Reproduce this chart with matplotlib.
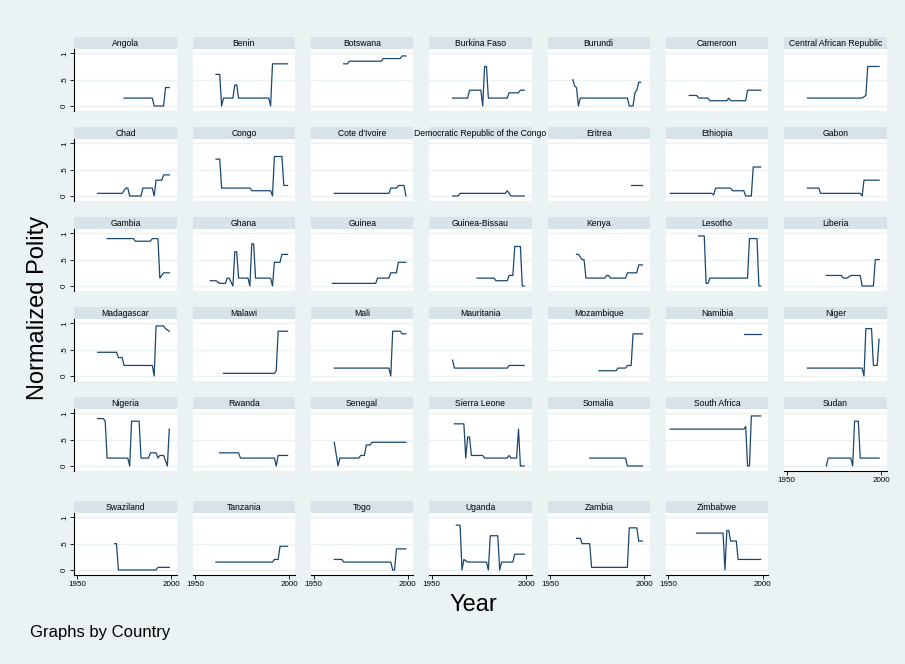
import matplotlib
matplotlib.use("Agg")
import matplotlib.pyplot as plt

plt.rcParams['font.family'] = ['Liberation Sans', 'DejaVu Sans']

# ---------------- data (vertices: year, normalized polity) ----------------
angola = [(1975, .15), (1990, .15), (1991, 0), (1996, 0), (1997, .35), (1999, .35)]
benin = [(1961, .6), (1963, .6), (1964, 0), (1965, .15), (1970, .15), (1971, .4), (1972, .4), (1973, .15),
         (1989, .15), (1990, 0), (1991, .8), (1999, .8)]
botswana = [(1966, .8), (1968, .8), (1969, .85), (1986, .85), (1987, .9), (1996, .9), (1997, .95), (1999, .95)]
burkina = [(1961, .15), (1969, .15), (1970, .3), (1976, .3), (1977, 0), (1978, .75), (1979, .75), (1980, .15),
           (1990, .15), (1991, .25), (1996, .25), (1997, .3), (1999, .3)]
burundi = [(1962, .5), (1963, .38), (1964, .35), (1965, 0), (1966, .15), (1991, .15), (1992, 0), (1994, 0),
           (1995, .25), (1996, .3), (1997, .45), (1998, .45)]
cameroon = [(1961, .2), (1965, .2), (1966, .15), (1971, .15), (1972, .1), (1981, .1), (1982, .15), (1983, .1),
            (1991, .1), (1992, .3), (1999, .3)]
car = [(1961, .15), (1990, .15), (1992, .2), (1993, .75), (1999, .75)]
chad = [(1961, .05), (1974, .05), (1976, .15), (1977, .15), (1978, 0), (1984, 0), (1985, .15), (1990, .15),
        (1991, 0), (1992, .3), (1995, .3), (1996, .4), (1999, .4)]
congo = [(1961, .7), (1963, .7), (1964, .15), (1979, .15), (1980, .1), (1990, .1), (1991, 0), (1992, .75),
         (1996, .75), (1997, .2), (1999, .2)]
cote = [(1961, .05), (1990, .05), (1991, .15), (1994, .15), (1995, .2), (1998, .2), (1999, 0)]
drc = [(1961, 0), (1964, 0), (1965, .05), (1989, .05), (1990, .1), (1992, 0), (1999, 0)]
eritrea = [(1993, .2), (1999, .2)]
ethiopia = [(1951, .05), (1973, .05), (1974, .02), (1975, .15), (1983, .15), (1984, .1), (1990, .1), (1991, 0),
            (1994, 0), (1995, .55), (1999, .55)]
gabon = [(1961, .15), (1967, .15), (1968, .05), (1989, .05), (1990, 0), (1991, .3), (1999, .3)]
gambia = [(1966, .9), (1980, .9), (1981, .85), (1989, .85), (1990, .9), (1993, .9), (1994, .15), (1995, .2),
          (1996, .25), (1999, .25)]
ghana = [(1958, .1), (1961, .1), (1963, .05), (1966, .05), (1967, .15), (1968, .15), (1970, 0), (1971, .65),
         (1972, .65), (1973, .15), (1978, .15), (1979, 0), (1980, .8), (1981, .8), (1982, .15), (1990, .15),
         (1991, 0), (1992, .45), (1995, .45), (1996, .6), (1999, .6)]
guinea = [(1960, .05), (1983, .05), (1984, .15), (1990, .15), (1991, .25), (1994, .25), (1995, .45), (1999, .45)]
gbissau = [(1974, .15), (1983, .15), (1984, .1), (1990, .1), (1991, .2), (1993, .2), (1994, .75), (1997, .75),
           (1998, 0), (1999, 0)]
kenya = [(1964, .6), (1965, .6), (1967, .5), (1968, .5), (1969, .15), (1979, .15), (1980, .2), (1981, .2),
         (1982, .15), (1990, .15), (1991, .25), (1996, .25), (1997, .4), (1999, .4)]
lesotho = [(1966, .95), (1969, .95), (1970, .05), (1971, .05), (1972, .15), (1992, .15), (1993, .9), (1997, .9),
           (1998, 0), (1999, 0)]
liberia = [(1971, .2), (1979, .2), (1980, .15), (1982, .15), (1984, .2), (1989, .2), (1990, 0), (1996, 0),
           (1997, .5), (1999, .5)]
madagascar = [(1961, .45), (1971, .45), (1972, .35), (1974, .35), (1975, .2), (1990, .2), (1991, 0), (1992, .95),
              (1996, .95), (1997, .9), (1999, .85)]
malawi = [(1965, .05), (1992, .05), (1993, .1), (1994, .85), (1999, .85)]
mali = [(1961, .15), (1990, .15), (1991, 0), (1992, .85), (1996, .85), (1997, .8), (1999, .8)]
mauritania = [(1961, .3), (1962, .15), (1990, .15), (1991, .2), (1999, .2)]
mozambique = [(1976, .1), (1985, .1), (1986, .15), (1990, .15), (1991, .2), (1993, .2), (1994, .8), (1999, .8)]
namibia = [(1990, .8), (1999, .8)]
niger = [(1961, .15), (1990, .15), (1991, 0), (1992, .9), (1995, .9), (1996, .2), (1998, .2), (1999, .7)]
nigeria = [(1961, .9), (1964, .9), (1965, .85), (1966, .15), (1977, .15), (1978, 0), (1979, .85), (1983, .85),
           (1984, .15), (1988, .15), (1989, .25), (1992, .25), (1993, .15), (1994, .2), (1996, .2), (1998, 0),
           (1999, .7)]
rwanda = [(1963, .25), (1973, .25), (1974, .15), (1992, .15), (1993, 0), (1994, .2), (1999, .2)]
senegal = [(1961, .45), (1963, 0), (1964, .15), (1974, .15), (1975, .2), (1977, .2), (1978, .4), (1980, .4),
           (1981, .45), (1999, .45)]
sierra = [(1962, .8), (1967, .8), (1968, .15), (1969, .55), (1970, .55), (1971, .2), (1977, .2), (1978, .15),
          (1990, .15), (1991, .2), (1992, .15), (1995, .15), (1996, .7), (1997, 0), (1999, 0)]
somalia = [(1971, .15), (1990, .15), (1991, 0), (1999, 0)]
safrica = [(1951, .7), (1990, .7), (1991, .75), (1992, 0), (1993, 0), (1994, .95), (1999, .95)]
sudan = [(1971, 0), (1972, .15), (1984, .15), (1985, 0), (1986, .85), (1988, .85), (1989, .15), (1999, .15)]
swaziland = [(1970, .5), (1971, .5), (1972, 0), (1992, 0), (1993, .05), (1999, .05)]
tanzania = [(1961, .15), (1991, .15), (1992, .2), (1994, .2), (1995, .45), (1999, .45)]
togo = [(1961, .2), (1965, .2), (1966, .15), (1991, .15), (1992, 0), (1993, 0), (1994, .4), (1999, .4)]
uganda = [(1963, .85), (1965, .85), (1966, 0), (1967, .2), (1969, .15), (1979, .15), (1980, 0), (1981, .65),
          (1985, .65), (1986, 0), (1987, .15), (1993, .15), (1994, .3), (1999, .3)]
zambia = [(1964, .6), (1966, .6), (1967, .5), (1971, .5), (1972, .05), (1991, .05), (1992, .8), (1996, .8),
          (1997, .55), (1999, .55)]
zimbabwe = [(1965, .7), (1979, .7), (1980, 0), (1981, .75), (1982, .75), (1983, .55), (1986, .55), (1987, .2),
            (1999, .2)]

countries = ["Angola", "Benin", "Botswana", "Burkina Faso", "Burundi", "Cameroon", "Central African Republic",
             "Chad", "Congo", "Cote d'Ivoire", "Democratic Republic of the Congo", "Eritrea", "Ethiopia", "Gabon",
             "Gambia", "Ghana", "Guinea", "Guinea-Bissau", "Kenya", "Lesotho", "Liberia",
             "Madagascar", "Malawi", "Mali", "Mauritania", "Mozambique", "Namibia", "Niger",
             "Nigeria", "Rwanda", "Senegal", "Sierra Leone", "Somalia", "South Africa", "Sudan",
             "Swaziland", "Tanzania", "Togo", "Uganda", "Zambia", "Zimbabwe"]
series = [angola, benin, botswana, burkina, burundi, cameroon, car,
          chad, congo, cote, drc, eritrea, ethiopia, gabon,
          gambia, ghana, guinea, gbissau, kenya, lesotho, liberia,
          madagascar, malawi, mali, mauritania, mozambique, namibia, niger,
          nigeria, rwanda, senegal, sierra, somalia, safrica, sudan,
          swaziland, tanzania, togo, uganda, zambia, zimbabwe]

y_ticks = [0, .5, 1]
y_ticklabels = ["0", ".5", "1"]
x_ticks = [1950, 2000]
x_ticklabels = ["1950", "2000"]

# ---------------- style ----------------
BG = "#eaf2f3"
STRIP = "#d8e3e9"
LINE = "#1a476f"
W, H = 905, 664
fig = plt.figure(figsize=(W / 100, H / 100), dpi=100, facecolor=BG)


def ax_px(left, top, w, h):
    return fig.add_axes([left / W, 1 - (top + h) / H, w / W, h / H])


ncol = 7
pw = 102.5
for i, (name, pts) in enumerate(zip(countries, series)):
    r, c = divmod(i, ncol)
    left = 74.3 + 118.3 * c
    top = 36.7 + 90 * r + (14 if r == 5 else 0)
    # strip
    sax = ax_px(left, top, pw, 12.0)
    sax.set_facecolor(STRIP)
    sax.set_xticks([]); sax.set_yticks([])
    for s in sax.spines.values():
        s.set_visible(False)
    sax.text(0.5, 0.45, name, ha="center", va="center", fontsize=6.2, color="black",
             transform=sax.transAxes, clip_on=False)
    # plot
    ax = ax_px(left, top + 12.6, pw, 61.7)
    ax.set_facecolor("white")
    ax.set_xlim(1948.6, 2003)
    ax.set_ylim(-0.095, 1.076)
    for g in y_ticks:
        ax.axhline(g, color=BG, lw=1.0, zorder=1)
    xs = [p[0] for p in pts]
    ys = [p[1] for p in pts]
    ax.plot(xs, ys, color=LINE, lw=0.9, zorder=3)
    for s in ax.spines.values():
        s.set_visible(False)
    if c == 0:
        ax.spines["left"].set_visible(True)
        ax.spines["left"].set_linewidth(0.8)
        ax.set_yticks(y_ticks)
        ax.set_yticklabels(y_ticklabels, rotation=90, va="center", fontsize=5.8)
        ax.tick_params(axis="y", length=3, width=0.6, pad=1.5)
    else:
        ax.set_yticks([])
    if r == 5 or name == "Sudan":
        ax.spines["bottom"].set_visible(True)
        ax.spines["bottom"].set_linewidth(0.8)
        ax.set_xticks(x_ticks)
        ax.set_xticklabels(x_ticklabels, fontsize=5.8)
        ax.tick_params(axis="x", length=3, width=0.6, pad=1.5)
    else:
        ax.set_xticks([])

fig.text(38 / W, 1 - 308 / H, "Normalized Polity", rotation=90, ha="center", va="center", fontsize=17)
fig.text(473 / W, 1 - 605 / H, "Year", ha="center", va="center", fontsize=17)
fig.text(30 / W, 1 - 633 / H, "Graphs by Country", ha="left", va="center", fontsize=12)

fig.savefig("out.png", dpi=100, facecolor=BG)
